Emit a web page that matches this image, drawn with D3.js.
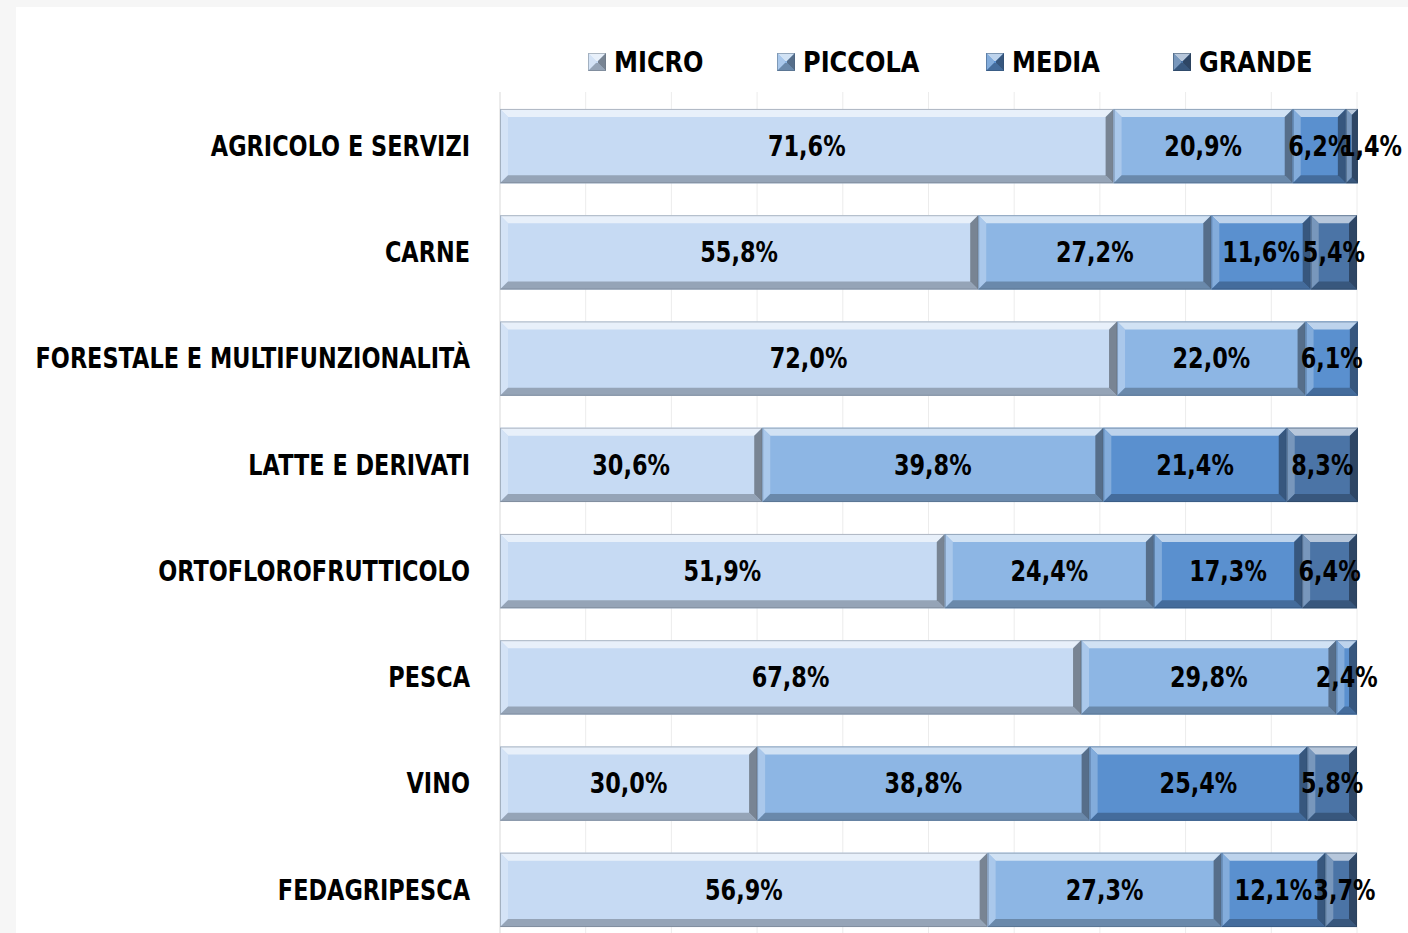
<!DOCTYPE html>
<html>
<head>
<meta charset="utf-8">
<script src="https://cdn.jsdelivr.net/npm/d3@7"></script>
<style>
  body { margin: 0; background: #f6f6f6; }
  svg { display: block; }
  text { font-family: "DejaVu Sans", sans-serif; font-weight: bold; }
</style>
</head>
<body>
<svg id="chart" width="1408" height="933"></svg>
<script>
const categories = ['AGRICOLO E SERVIZI', 'CARNE', 'FORESTALE E MULTIFUNZIONALITÀ', 'LATTE E DERIVATI',
  'ORTOFLOROFRUTTICOLO', 'PESCA', 'VINO', 'FEDAGRIPESCA'];
const seriesNames = ['MICRO', 'PICCOLA', 'MEDIA', 'GRANDE'];
const micro = [71.6, 55.8, 72.0, 30.6, 51.9, 67.8, 30.0, 56.9];
const piccola = [20.9, 27.2, 22.0, 39.8, 24.4, 29.8, 38.8, 27.3];
const media = [6.2, 11.6, 6.1, 21.4, 17.3, 2.4, 25.4, 12.1];
const grande = [1.4, 5.4, 0, 8.3, 6.4, 0, 5.8, 3.7];
const colors = ['#c6daf3', '#8db6e4', '#5a90cf', '#4b74a6'];

const svg = d3.select('#chart');
svg.append('rect').attr('x', 16).attr('y', 7).attr('width', 1392).attr('height', 926).attr('fill', '#fff');

const x = d3.scaleLinear().domain([0, 100]).range([500, 1357]);
const y = d3.scaleBand().domain(categories).range([93, 943]).paddingInner(0.3).paddingOuter(0.15);

// squeeze a text horizontally (no narrow font installed)
function condense(t, f) {
  const w = t.node().getComputedTextLength();
  t.attr('textLength', w * f).attr('lengthAdjust', 'spacingAndGlyphs');
  return w * f;
}

// gridlines
svg.append('g').selectAll('line')
  .data(d3.range(10, 101, 10))
  .enter().append('line')
  .attr('x1', d => x(d)).attr('x2', d => x(d))
  .attr('y1', 92).attr('y2', 933)
  .attr('stroke', '#ececec').attr('stroke-width', 1);
svg.append('line').attr('x1', 500).attr('x2', 500).attr('y1', 92).attr('y2', 933)
  .attr('stroke', '#d9d9d9');

const table = categories.map((c, i) => ({ cat: c, MICRO: micro[i], PICCOLA: piccola[i], MEDIA: media[i], GRANDE: grande[i] }));
const stacked = d3.stack().keys(seriesNames)(table);

function bevel(g, x0, y0, w, h, col) {
  const b = Math.min(8, w / 2);
  const c = d3.color(col);
  g.append('rect').attr('x', x0).attr('y', y0).attr('width', w).attr('height', h).attr('fill', col);
  const light = d3.interpolateRgb(col, '#ffffff')(0.6);
  const sideL = d3.interpolateRgb(col, '#ffffff')(0.25);
  const dark = c.darker(0.8);
  const sideR = c.darker(1.4);
  const poly = (pts, f) => g.append('polygon').attr('points', pts.map(p => p.join(',')).join(' ')).attr('fill', f);
  poly([[x0, y0], [x0 + w, y0], [x0 + w - b, y0 + b], [x0 + b, y0 + b]], light);
  poly([[x0, y0], [x0 + b, y0 + b], [x0 + b, y0 + h - b], [x0, y0 + h]], sideL);
  poly([[x0, y0 + h], [x0 + b, y0 + h - b], [x0 + w - b, y0 + h - b], [x0 + w, y0 + h]], dark);
  poly([[x0 + w, y0], [x0 + w, y0 + h], [x0 + w - b, y0 + h - b], [x0 + w - b, y0 + b]], sideR);
  g.append('rect').attr('x', x0 + 0.5).attr('y', y0 + 0.5).attr('width', Math.max(0, w - 1)).attr('height', h - 1)
    .attr('fill', 'none').attr('stroke', c.darker(1.8)).attr('stroke-opacity', 0.45);
}

const bars = svg.append('g');
stacked.forEach((layer, li) => {
  layer.forEach(d => {
    const w = x(d[1]) - x(d[0]);
    if (w <= 0) return;
    bevel(bars, x(d[0]), y(d.data.cat), w, y.bandwidth(), colors[li]);
  });
});

// data labels, nudged right when they would overlap the previous one (but kept inside the panel)
const labels = svg.append('g');
categories.forEach((c, i) => {
  let prevRight = -Infinity;
  stacked.forEach(layer => {
    const d = layer[i];
    const v = d[1] - d[0];
    if (v <= 0) return;
    const t = labels.append('text')
      .attr('y', y(c) + y.bandwidth() / 2)
      .attr('dy', '0.35em')
      .attr('font-size', 28)
      .attr('fill', '#000')
      .text(v.toFixed(1).replace('.', ',') + '%');
    const tw = condense(t, 0.8);
    let cx = (x(d[0]) + x(d[1])) / 2;
    if (cx - tw / 2 < prevRight + 1) cx = prevRight + 1 + tw / 2;
    cx = Math.min(cx, 1402 - tw / 2);
    t.attr('x', cx - tw / 2);
    prevRight = cx + tw / 2;
  });
});

// category labels
svg.append('g').selectAll('text')
  .data(categories)
  .enter().append('text')
  .attr('y', d => y(d) + y.bandwidth() / 2)
  .attr('dy', '0.35em')
  .attr('font-size', 28)
  .attr('fill', '#000')
  .text(d => d)
  .each(function () {
    const t = d3.select(this);
    const w = condense(t, 0.8);
    t.attr('x', 470 - w);
  });

// legend
const legendX = [588, 777, 986, 1173];
const legend = svg.append('g');
seriesNames.forEach((s, i) => {
  const g = legend.append('g');
  bevel(g, legendX[i], 53, 18, 18, colors[i]);
  const t = g.append('text').attr('x', legendX[i] + 26).attr('y', 62).attr('dy', '0.35em')
    .attr('font-size', 29).attr('fill', '#000').text(s);
  condense(t, 0.83);
});
</script>
</body>
</html>
